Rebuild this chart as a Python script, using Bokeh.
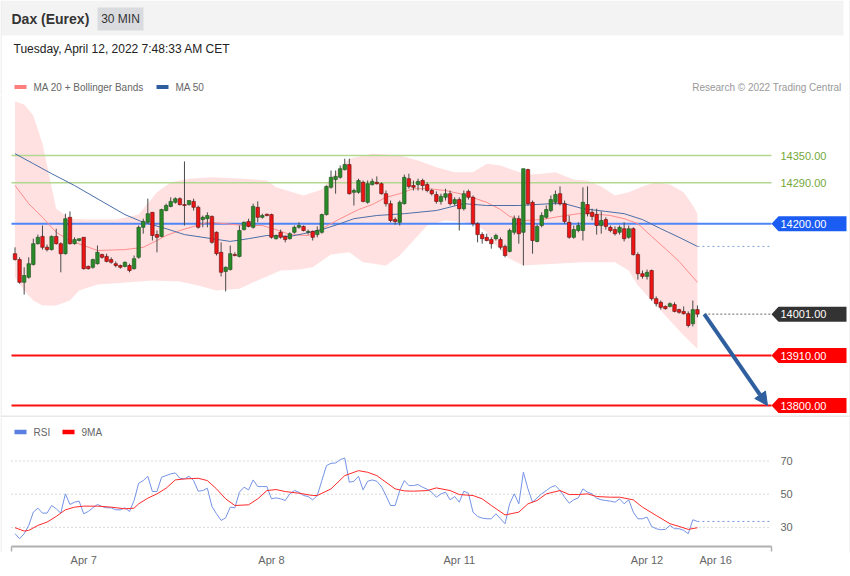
import numpy as np
from bokeh.plotting import figure
from bokeh.layouts import column
from bokeh.models import Range1d, ColumnDataSource, FixedTicker, Arrow, NormalHead
from bokeh.core.properties import value
from bokeh.embed import file_html
from bokeh.resources import INLINE

FONT = "Liberation Sans"

# ------------------------------------------------------------------ data
title = "Dax (Eurex)"
period = "30 MIN"
stamp = "Tuesday, April 12, 2022 7:48:33 AM CET"
credit = "Research \u00a9 2022 Trading Central"

open_ = [14134, 14121, 14071, 14082, 14110, 14156, 14172, 14148, 14143, 14172,
         14156, 14134, 14214, 14156, 14163, 14170, 14106, 14104, 14112, 14132,
         14128, 14121, 14112, 14108, 14106, 14108, 14101, 14126, 14192, 14203,
         14225, 14176, 14172, 14229, 14238, 14247, 14255, 14242, 14242, 14249,
         14236, 14209, 14211, 14216, 14181, 14137, 14095, 14099, 14132, 14128,
         14187, 14205, 14192, 14236, 14214, 14220, 14220, 14167, 14181, 14172,
         14167, 14181, 14192, 14194, 14181, 14183, 14176, 14181, 14220, 14280,
         14297, 14302, 14319, 14330, 14269, 14269, 14291, 14247, 14286, 14291,
         14288, 14266, 14244, 14209, 14203, 14244, 14299, 14284, 14286, 14295,
         14286, 14273, 14264, 14249, 14258, 14266, 14244, 14253, 14233, 14271,
         14258, 14200, 14176, 14170, 14165, 14167, 14165, 14150, 14139, 14181,
         14211, 14181, 14319, 14247, 14161, 14196, 14214, 14229, 14247, 14266,
         14244, 14203, 14170, 14185, 14185, 14242, 14225, 14220, 14196, 14209,
         14192, 14187, 14181, 14189, 14170, 14189, 14132, 14090, 14084, 14097,
         14035, 14027, 14018, 14018, 14022, 14011, 14007, 14002, 13980, 14011]
high = [14148, 14126, 14104, 14126, 14167, 14176, 14196, 14154, 14174, 14189,
        14159, 14222, 14227, 14170, 14167, 14170, 14108, 14123, 14152, 14134,
        14134, 14126, 14117, 14110, 14117, 14112, 14130, 14196, 14211, 14255,
        14225, 14185, 14233, 14244, 14258, 14258, 14258, 14337, 14251, 14255,
        14240, 14218, 14225, 14218, 14183, 14159, 14106, 14152, 14137, 14196,
        14205, 14211, 14244, 14249, 14222, 14222, 14222, 14176, 14187, 14174,
        14181, 14196, 14203, 14196, 14187, 14185, 14194, 14222, 14284, 14317,
        14317, 14328, 14343, 14343, 14277, 14299, 14295, 14295, 14299, 14304,
        14291, 14273, 14251, 14214, 14251, 14308, 14310, 14295, 14299, 14299,
        14291, 14277, 14271, 14266, 14277, 14273, 14258, 14258, 14273, 14275,
        14262, 14203, 14181, 14178, 14170, 14178, 14170, 14154, 14189, 14218,
        14218, 14321, 14321, 14251, 14198, 14225, 14240, 14262, 14273, 14282,
        14251, 14218, 14196, 14203, 14280, 14282, 14233, 14233, 14227, 14214,
        14196, 14194, 14196, 14203, 14196, 14192, 14137, 14097, 14099, 14099,
        14040, 14031, 14020, 14027, 14027, 14013, 14018, 14007, 14031, 14020]
low = [14119, 14068, 14044, 14079, 14108, 14154, 14143, 14139, 14141, 14154,
       14093, 14132, 14154, 14154, 14161, 14099, 14099, 14101, 14110, 14123,
       14115, 14112, 14104, 14101, 14104, 14093, 14099, 14123, 14178, 14200,
       14163, 14137, 14170, 14227, 14236, 14244, 14240, 14196, 14240, 14229,
       14189, 14192, 14192, 14156, 14130, 14084, 14051, 14097, 14128, 14126,
       14185, 14192, 14189, 14203, 14211, 14216, 14167, 14165, 14167, 14159,
       14165, 14178, 14189, 14183, 14176, 14163, 14170, 14178, 14218, 14277,
       14266, 14299, 14317, 14264, 14240, 14266, 14247, 14244, 14284, 14286,
       14264, 14238, 14203, 14198, 14196, 14242, 14277, 14273, 14273, 14273,
       14269, 14262, 14244, 14242, 14251, 14240, 14240, 14185, 14229, 14253,
       14194, 14159, 14156, 14161, 14145, 14163, 14143, 14126, 14137, 14176,
       14156, 14108, 14240, 14134, 14159, 14192, 14211, 14225, 14242, 14240,
       14200, 14167, 14167, 14181, 14163, 14216, 14207, 14176, 14178, 14187,
       14181, 14174, 14176, 14161, 14167, 14130, 14077, 14079, 14077, 14031,
       14018, 14011, 14011, 14016, 14005, 14002, 14000, 13972, 13974, 13994]
close_ = [14121, 14071, 14086, 14112, 14156, 14170, 14148, 14143, 14172, 14156,
          14134, 14211, 14156, 14165, 14167, 14101, 14101, 14121, 14137, 14126,
          14117, 14115, 14108, 14104, 14115, 14097, 14123, 14192, 14205, 14222,
          14174, 14170, 14231, 14240, 14249, 14255, 14242, 14240, 14251, 14236,
          14192, 14214, 14218, 14159, 14134, 14093, 14104, 14134, 14130, 14185,
          14203, 14194, 14238, 14214, 14218, 14219, 14170, 14174, 14170, 14165,
          14178, 14192, 14196, 14185, 14183, 14170, 14185, 14220, 14282, 14302,
          14304, 14321, 14330, 14266, 14273, 14295, 14249, 14288, 14293, 14288,
          14266, 14244, 14207, 14205, 14247, 14302, 14282, 14280, 14293, 14284,
          14273, 14266, 14249, 14260, 14266, 14244, 14253, 14233, 14266, 14258,
          14200, 14176, 14167, 14163, 14156, 14174, 14148, 14130, 14185, 14211,
          14178, 14321, 14244, 14163, 14194, 14218, 14231, 14253, 14264, 14244,
          14205, 14170, 14187, 14196, 14247, 14222, 14216, 14196, 14207, 14194,
          14185, 14178, 14192, 14167, 14189, 14132, 14090, 14084, 14093, 14035,
          14024, 14016, 14013, 14024, 14007, 14005, 14002, 13976, 14011, 14001]

# Bollinger bands (read at sample candles)
upper_idx = [0, 2, 4, 6, 8, 9, 12, 16, 22, 27, 31, 34, 38, 43, 50, 55, 57, 63, 67, 70,
             73, 78, 84, 88, 92, 96, 100, 103, 106, 109, 112, 115, 118, 122, 125, 128,
             131, 134, 137, 140, 143, 146, 148, 149]
upper_band = [14469, 14462, 14438, 14376, 14280, 14233, 14211, 14209, 14209, 14220,
              14269, 14291, 14299, 14302, 14299, 14295, 14280, 14262, 14275, 14313,
              14343, 14354, 14350, 14339, 14324, 14313, 14313, 14332, 14328, 14317,
              14308, 14310, 14313, 14297, 14295, 14282, 14262, 14269, 14282, 14291,
              14286, 14269, 14240, 14222]
lower_idx = [0, 2, 4, 6, 9, 12, 14, 18, 25, 30, 36, 40, 44, 49, 52, 55, 58, 62, 65, 69,
             73, 76, 81, 84, 87, 90, 94, 98, 101, 103, 105, 108, 111, 118, 124, 131,
             134, 136, 138, 140, 142, 144, 146, 149]
lower_band = [14082, 14053, 14031, 14020, 14020, 14031, 14053, 14066, 14071, 14075,
              14073, 14064, 14053, 14057, 14071, 14084, 14097, 14099, 14104, 14132,
              14137, 14115, 14108, 14130, 14163, 14196, 14207, 14203, 14196, 14181,
              14152, 14123, 14108, 14112, 14115, 14115, 14097, 14064, 14042, 14020,
              13998, 13976, 13954, 13925]
ma20_idx = [0, 3, 6, 9, 12, 15, 18, 24, 28, 31, 33, 36, 39, 42, 46, 50, 54, 57, 60, 64,
            67, 71, 75, 78, 81, 84, 87, 90, 94, 98, 103, 106, 108, 111, 115, 119, 123,
            126, 130, 133, 136, 139, 142, 145, 149]
ma20 = [14284, 14244, 14214, 14181, 14163, 14152, 14141, 14143, 14148, 14163,
        14174, 14185, 14194, 14203, 14200, 14196, 14196, 14187, 14176, 14174,
        14189, 14211, 14231, 14242, 14258, 14266, 14277, 14277, 14273, 14264,
        14247, 14231, 14216, 14207, 14209, 14216, 14222, 14222, 14218, 14211,
        14200, 14172, 14145, 14117, 14071]
ma50_idx = [0, 4, 8, 13, 19, 24, 28, 33, 37, 43, 47, 51, 55, 60, 63, 67, 71, 74, 79, 85,
            92, 98, 103, 110, 117, 120, 124, 129, 133, 137, 141, 145, 149]
ma50 = [14354, 14332, 14310, 14284, 14249, 14220, 14203, 14189, 14176, 14167,
        14161, 14167, 14174, 14172, 14178, 14187, 14200, 14211, 14218, 14222,
        14229, 14244, 14240, 14240, 14244, 14244, 14233, 14227, 14222, 14209,
        14189, 14170, 14150]

# key levels
green_levels = [14350, 14290]
box_levels = [14200, 14001, 13910, 13800]
target = 13800

# RSI panel
rsi = [26.2, 23.2, 26.2, 31.2, 39.2, 41.6, 38.6, 38.6, 43.2, 41.2,
       38.6, 50.2, 43.8, 45.2, 45.8, 38.2, 39.6, 41.8, 43.8, 42.6,
       41.8, 41.8, 40.6, 40.6, 41.8, 39.6, 46.2, 56.6, 58.2, 60.8,
       51.6, 51.6, 60.2, 61.2, 62.2, 62.8, 59.6, 59.2, 60.8, 58.2,
       51.8, 52.2, 53.6, 42.6, 38.2, 34.2, 35.8, 42.2, 41.8, 51.2,
       54.2, 52.6, 58.6, 54.6, 54.6, 54.6, 47.2, 47.8, 47.2, 46.2,
       50.2, 52.2, 51.2, 49.2, 48.6, 46.6, 49.2, 58.2, 67.2, 68.6,
       68.8, 70.8, 71.8, 57.2, 57.8, 60.8, 52.6, 57.8, 58.6, 57.8,
       54.6, 49.2, 43.2, 43.2, 52.2, 58.2, 55.2, 55.2, 55.8, 54.2,
       53.0, 51.2, 48.2, 50.2, 51.2, 46.6, 48.6, 45.2, 51.8, 50.6,
       39.2, 36.6, 35.6, 35.2, 35.2, 38.2, 35.2, 32.2, 44.2, 50.2,
       44.2, 63.2, 53.2, 45.2, 47.8, 50.2, 52.2, 54.2, 55.2, 52.2,
       48.2, 44.6, 46.6, 47.8, 53.2, 51.2, 50.2, 47.6, 46.6, 46.2,
       45.8, 45.2, 47.2, 44.2, 46.6, 39.2, 35.2, 35.2, 36.2, 30.6,
       29.2, 28.6, 28.8, 31.2, 29.2, 29.2, 28.2, 26.2, 34.6, 33.6]
ma9_idx = [0, 2, 3, 5, 7, 9, 11, 13, 15, 18, 21, 24, 26, 27, 29, 31, 33, 35, 37, 40,
           42, 44, 46, 48, 51, 53, 55, 57, 59, 62, 65, 66, 69, 72, 75, 77, 79, 81, 83,
           85, 87, 90, 92, 95, 97, 100, 102, 104, 107, 110, 112, 114, 116, 119, 121,
           123, 125, 127, 130, 132, 135, 137, 140, 143, 145, 147, 149]
ma9 = [29.8, 27.8, 28.2, 31.2, 33.2, 36.6, 40.6, 42.2, 42.8, 42.8, 42.2, 41.2, 41.6,
       44.2, 47.6, 50.2, 53.6, 58.6, 59.2, 59.6, 58.2, 53.2, 47.2, 43.2, 43.6, 47.2,
       52.2, 52.8, 51.6, 50.6, 49.2, 49.2, 53.2, 61.2, 64.2, 63.2, 61.2, 57.2, 53.2,
       52.0, 51.8, 52.2, 53.8, 52.2, 49.8, 49.2, 47.2, 43.2, 37.5, 39.2, 44.2, 46.2,
       50.2, 52.2, 49.8, 49.8, 50.2, 48.6, 48.2, 48.2, 46.6, 42.2, 37.2, 32.2, 30.6,
       28.8, 29.8]
rsi_levels = [30, 50, 70]
date_ticks = [15, 56, 97, 138, 153]
date_labels = ["Apr 7", "Apr 8", "Apr 11", "Apr 12", "Apr 16"]

# ------------------------------------------------------------------ layout constants
W = 850
PX0, PXSTEP = 14.5, 4.58          # page x of first candle, px per candle


def ix(px):
    return (px - PX0) / PXSTEP


X_LO, X_HI = ix(0), ix(850)
X_L, X_END = ix(11), ix(771)       # plot-area left / right edge
PPX = 2.2                          # price units per px


def pp(py):                        # page y -> price
    return 14691 - PPX * py


def rr(py):                        # page y -> RSI value
    return 50 - (py - 493.7) / 1.66


n = len(close_)
idx = np.arange(n)
o, h, l, c = map(np.array, (open_, high, low, close_))
BORDER = "#e6e6e6"
LEG_FS = "10px"


def mk(**kw):
    fig = figure(toolbar_location=None, output_backend="svg", min_border=0,
                 min_border_left=0, min_border_right=0, min_border_top=0, **kw)
    fig.outline_line_color = None
    fig.background_fill_color = "white"
    fig.border_fill_color = "white"
    return fig


# ------------------------------------------------------------------ header (page y 0..95)
hdr = mk(width=W, height=95, x_range=Range1d(0, W), y_range=Range1d(95, 0),
         x_axis_type=None, y_axis_type=None, min_border_bottom=0)
hdr.quad(left=[1], right=[843], top=[0], bottom=[35], fill_color="#f3f3f3", line_color=None)
hdr.quad(left=[0, 849], right=[1, 850], top=[0, 0], bottom=[95, 95], fill_color=BORDER, line_color=None)
hdr.quad(left=[97], right=[143], top=[7], bottom=[30], fill_color="#dadbdf", line_color=None)
hdr.text(x=[11], y=[18.5], text=[title], text_font=value(FONT), text_font_size="14px",
         text_font_style="bold", text_color="#333333", text_baseline="middle")
hdr.text(x=[120], y=[18.5], text=[period], text_font=value(FONT), text_font_size="12px",
         text_color="#333333", text_baseline="middle", text_align="center")
hdr.text(x=[13], y=[48.5], text=[stamp], text_font=value(FONT), text_font_size="12px",
         text_color="#222222", text_baseline="middle")
hdr.quad(left=[14], right=[26], top=[84.5], bottom=[88.5], fill_color="#ff7f7f", line_color=None)
hdr.quad(left=[156], right=[168], top=[84.5], bottom=[88.5], fill_color="#2f5e9e", line_color=None)
hdr.text(x=[33, 175], y=[86.5, 86.5], text=["MA 20 + Bollinger Bands", "MA 50"],
         text_font=value(FONT), text_font_size=LEG_FS, text_color="#666666",
         text_baseline="middle")
hdr.text(x=[841], y=[86.5], text=[credit], text_font=value(FONT), text_font_size=LEG_FS,
         text_color="#999999", text_baseline="middle", text_align="right")

# ------------------------------------------------------------------ main price chart (page y 95..417)
p = mk(width=W, height=322, x_range=Range1d(X_LO, X_HI), y_range=Range1d(pp(417), pp(95)),
       x_axis_type=None, y_axis_type=None, min_border_bottom=0)

# Bollinger band
p.patch(x=list(upper_idx) + list(lower_idx[::-1]), y=list(upper_band) + list(lower_band[::-1]),
        fill_color="#ffe1e1", line_color=None)

# horizontal levels
p.segment(x0=[X_L] * 2, x1=[X_END] * 2, y0=green_levels, y1=green_levels,
          line_color="#b3d78f", line_width=1.5)
p.segment(x0=[X_L], x1=[X_END], y0=[box_levels[0]], y1=[box_levels[0]],
          line_color="#4f86f7", line_width=2)
p.segment(x0=[X_L] * 2, x1=[X_END] * 2, y0=box_levels[2:], y1=box_levels[2:],
          line_color="#ff1010", line_width=2)
p.line([n + 0.5, X_END], [box_levels[1]] * 2, line_color="#666666", line_dash="2 2", line_width=1)
p.line([ma50_idx[-1], X_END], [ma50[-1]] * 2, line_color="#7fa0d6", line_dash="2 3", line_width=1)

# moving averages
p.line(ma20_idx, ma20, line_color="#ff8c8c", line_width=1)
p.line(ma50_idx, ma50, line_color="#4b6fa8", line_width=1)

# candles
up = c > o
body_top = np.maximum(o, c)
body_bot = np.minimum(o, c)
flat = (body_top - body_bot) < 1.6
body_top = np.where(flat, body_top + 0.8, body_top)
body_bot = np.where(flat, body_bot - 0.8, body_bot)
p.segment(x0=idx, x1=idx, y0=h, y1=l, line_color="#4a4a4a", line_width=1)
src_up = ColumnDataSource(dict(x=idx[up], top=body_top[up], bottom=body_bot[up]))
src_dn = ColumnDataSource(dict(x=idx[~up], top=body_top[~up], bottom=body_bot[~up]))
p.vbar(x="x", top="top", bottom="bottom", width=0.76, source=src_up,
       fill_color="#2a8a2a", line_color="#1c4d1c", line_width=0.6)
p.vbar(x="x", top="top", bottom="bottom", width=0.76, source=src_dn,
       fill_color="#f01515", line_color="#5a1010", line_width=0.6)

# projection arrow
ARROW_C = "#2f5f9f"
p.add_layout(Arrow(end=NormalHead(size=13, fill_color=ARROW_C, line_color=ARROW_C),
                   x_start=n + 0.5, y_start=close_[-1], x_end=ix(767), y_end=target,
                   line_color=ARROW_C, line_width=4))

# right-hand level labels
HALF = 7.5 * PPX
tip, body_l, far = X_END, ix(778), ix(846)
box_colors = ["#1b5cf3", "#333333", "#ff0000", "#ff0000"]
p.patches(xs=[[tip, body_l, far, far, body_l] for _ in box_levels],
          ys=[[lv, lv + HALF, lv + HALF, lv - HALF, lv - HALF] for lv in box_levels],
          fill_color=box_colors, line_color=None)
p.text(x=[ix(780)] * len(box_levels), y=box_levels, text=["%.2f" % v for v in box_levels],
       text_font=value(FONT), text_font_size="11px", text_color="white", text_baseline="middle")
p.text(x=[ix(780)] * len(green_levels), y=green_levels, text=["%.2f" % v for v in green_levels],
       text_font=value(FONT), text_font_size="11px", text_color="#76a83c", text_baseline="middle")

# panel borders + separator between panels
p.quad(left=[X_LO, ix(849)], right=[ix(1), X_HI], top=[pp(95)] * 2, bottom=[pp(417)] * 2,
       fill_color=BORDER, line_color=None)
p.quad(left=[X_LO], right=[X_HI], top=[pp(415)], bottom=[pp(417)],
       fill_color="#e8e8e8", line_color=None)

# ------------------------------------------------------------------ RSI panel (page y 417..576)
rs = mk(width=W, height=159, x_range=Range1d(X_LO, X_HI), y_range=Range1d(rr(552), rr(417)),
        y_axis_type=None, min_border_bottom=24)
rs.grid.visible = False

xa = rs.xaxis[0]
xa.ticker = FixedTicker(ticks=date_ticks)
xa.major_label_overrides = {t: lab for t, lab in zip(date_ticks, date_labels)}
xa.axis_line_color = None
xa.major_tick_in = 0
xa.major_tick_out = 0
xa.minor_tick_line_color = None
xa.major_tick_line_color = None
xa.major_label_standoff = 1
xa.major_label_text_font = FONT
xa.major_label_text_font_size = "11px"
xa.major_label_text_color = "#666666"

# dotted level lines and their labels
rs.segment(x0=[X_L] * 3, x1=[X_END] * 3, y0=rsi_levels, y1=rsi_levels,
           line_color="#b5b5b5", line_dash="1 3", line_width=1)
rs.text(x=[ix(780)] * 3, y=rsi_levels, text=[str(v) for v in rsi_levels], text_font=value(FONT),
        text_font_size="11px", text_color="#666666", text_baseline="middle")

# time axis line with end ticks
AX_C = "#b0b0b0"
rs.segment(x0=[X_L], x1=[X_END], y0=[rr(546)], y1=[rr(546)], line_color=AX_C, line_width=2)
rs.segment(x0=[X_L, X_END], x1=[X_L, X_END], y0=[rr(546)] * 2, y1=[rr(551)] * 2,
           line_color=AX_C, line_width=1.5)

rs.line(idx, rsi, line_color="#7593e6", line_width=1)
rs.line([n - 1, X_END], [rsi[-1]] * 2, line_color="#7593e6", line_width=1, line_dash="2 3")
rs.line(ma9_idx, ma9, line_color="#ff2a2a", line_width=1)

# RSI legend
leg_y = rr(431.5)
rs.quad(left=[ix(14), ix(62)], right=[ix(26), ix(74)], top=[leg_y + 1.3] * 2,
        bottom=[leg_y - 1.3] * 2, fill_color=["#5b7fe0", "#ff0000"], line_color=None)
rs.text(x=[ix(33), ix(81)], y=[leg_y] * 2, text=["RSI", "9MA"], text_font=value(FONT),
        text_font_size=LEG_FS, text_color="#666666", text_baseline="middle")

# panel borders
rs.quad(left=[X_LO, ix(849)], right=[ix(1), X_HI], top=[rr(417)] * 2, bottom=[rr(552)] * 2,
        fill_color=BORDER, line_color=None)

layout = column(hdr, p, rs)
open("out.html", "w").write(file_html(layout, INLINE))
